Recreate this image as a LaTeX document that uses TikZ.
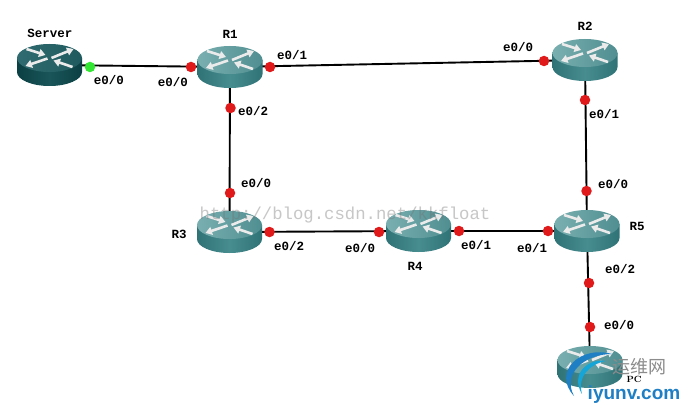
\documentclass[tikz,border=0pt]{standalone}
\usepackage{fontspec}
\setmonofont{Liberation Mono}
\newfontfamily\cjk{Noto Sans CJK SC}
\newfontfamily\logofont{Liberation Sans}
\usetikzlibrary{arrows.meta}
\definecolor{rtop}{HTML}{7AAFB0}
\definecolor{rtopd}{HTML}{4F8E91}
\definecolor{rside}{HTML}{478C8F}
\definecolor{rsided}{HTML}{307377}
\definecolor{stop}{HTML}{2F6B70}
\definecolor{stopd}{HTML}{1F5A5E}
\definecolor{sside}{HTML}{1A5559}
\definecolor{ssided}{HTML}{0B4044}
\definecolor{dotred}{HTML}{E01A1A}
\definecolor{dotgreen}{HTML}{33E633}
\definecolor{logoblue}{HTML}{1E7FC4}
\tikzset{
  hub/.style={circle,inner sep=0pt,minimum size=2pt},
  link/.style={draw=black,line width=1.9pt},
  portdot/.style={circle,fill=dotred,inner sep=0pt,minimum size=10.5pt},
  greendot/.style={circle,fill=dotgreen,inner sep=0pt,minimum size=10.5pt},
  lab/.style={font=\ttfamily\bfseries\fontsize{12.5}{13}\selectfont,text=black,inner sep=0pt},
  arr/.style={white!92!black,line width=2.6pt,-{Triangle[length=6.5pt,width=8pt]}},
}
% #1 node name, #2 top light, #3 top dark, #4 side light, #5 side dark
\newcommand{\routerart}[5]{%
  \begin{scope}[shift={(#1.center)}]
    \path[left color=#5,right color=#5,middle color=#4]
      (-32.5,-7) -- (-32.5,7) arc[start angle=180,end angle=0,x radius=32.5,y radius=14]
      -- (32.5,-7) -- cycle;
    \path[left color=#2,right color=#3] (0,-7) ellipse[x radius=32.5,y radius=14];
    \draw[arr] (-23,-16) -- (-4,-10);
    \draw[arr] (2,-7) -- (24,-16);
    \draw[arr] (-2,-6.5) -- (-24,1);
    \draw[arr] (23,2) -- (4,-4.5);
  \end{scope}}
\begin{document}
\begin{tikzpicture}[x=1pt,y=-1pt]
\useasboundingbox (0,0) rectangle (685,409);
\fill[white] (0,0) rectangle (685,409);
% router anchors
\node[hub] (srv) at (49.5,65) {};
\node[hub] (r1) at (230,67) {};
\node[hub] (r2) at (585,60) {};
\node[hub] (r3) at (229.5,232) {};
\node[hub] (r4) at (418.5,231) {};
\node[hub] (r5) at (587,231) {};
\node[hub] (pc) at (590,367) {};
% connectors
\draw[link] (srv.center) -- (r1.center);
\draw[link] (r1.center) -- (r2.center);
\draw[link] (r1.center) -- (r3.center);
\draw[link] (r3.center) -- (r4.center);
\draw[link] (r4.center) -- (r5.center);
\draw[link] (r2.center) -- (r5.center);
\draw[link] (r5.center) -- (pc.center);
% routers
\routerart{srv}{stop}{stopd}{sside}{ssided}
\routerart{r1}{rtop}{rtopd}{rside}{rsided}
\routerart{r2}{rtop}{rtopd}{rside}{rsided}
\routerart{r3}{rtop}{rtopd}{rside}{rsided}
\routerart{r4}{rtop}{rtopd}{rside}{rsided}
\routerart{r5}{rtop}{rtopd}{rside}{rsided}
\routerart{pc}{rtop}{rtopd}{rside}{rsided}
% port dots
\node[greendot] (d0) at (90,67) {};
\node[portdot] (d1) at (191,67) {};
\node[portdot] (d2) at (270,67) {};
\node[portdot] (d3) at (230.5,108) {};
\node[portdot] (d4) at (230,193) {};
\node[portdot] (d5) at (544,61) {};
\node[portdot] (d6) at (585,100) {};
\node[portdot] (d7) at (586.5,191) {};
\node[portdot] (d8) at (269.5,232) {};
\node[portdot] (d9) at (379,232) {};
\node[portdot] (d10) at (459,231) {};
\node[portdot] (d11) at (548,231) {};
\node[portdot] (d12) at (589,283) {};
\node[portdot] (d13) at (590,327) {};
% labels
\node[lab] (t0) at (50,33) {Server};
\node[lab] (t1) at (230,34) {R1};
\node[lab] (t2) at (585,26) {R2};
\node[lab] (t3) at (179,234) {R3};
\node[lab] (t4) at (415,266) {R4};
\node[lab] (t5) at (637,226) {R5};
\node[lab] (l0) at (109,80) {e0/0};
\node[lab] (l1) at (173,82) {e0/0};
\node[lab] (l2) at (292,55) {e0/1};
\node[lab] (l3) at (253,111) {e0/2};
\node[lab] (l4) at (256,183) {e0/0};
\node[lab] (l5) at (518,47) {e0/0};
\node[lab] (l6) at (604,114) {e0/1};
\node[lab] (l7) at (613,184) {e0/0};
\node[lab] (l8) at (289,246) {e0/2};
\node[lab] (l9) at (360,248) {e0/0};
\node[lab] (l10) at (476,245) {e0/1};
\node[lab] (l11) at (532,248) {e0/1};
\node[lab] (l12) at (620,269) {e0/2};
\node[lab] (l13) at (619,325) {e0/0};
% watermark
\node[inner sep=0pt,text=black!55,opacity=.4,font=\ttfamily\fontsize{17.3}{18}\selectfont] (wm) at (345,215) {http://blog.csdn.net/kkfloat};
% logo
\fill[logoblue] (612,354) .. controls (580,345) and (552,372) .. (574,396)
  .. controls (562,374) and (584,354) .. (612,354) -- cycle;
\fill[logoblue!70!cyan] (606,361) .. controls (588,358) and (570,374) .. (582,394)
  .. controls (577,376) and (590,364) .. (606,361) -- cycle;
\node[inner sep=0pt,text=black!45,font=\cjk\fontsize{18}{19}\selectfont] (logo1) at (639,367) {运维网};
\node[inner sep=0pt,font=\rmfamily\bfseries\fontsize{9}{10}\selectfont] (t6) at (634,379) {PC};
\node[inner sep=0pt,text=logoblue,font=\logofont\bfseries\fontsize{19}{20}\selectfont] (logo2) at (634,395) {iyunv.com};
\end{tikzpicture}
\end{document}
